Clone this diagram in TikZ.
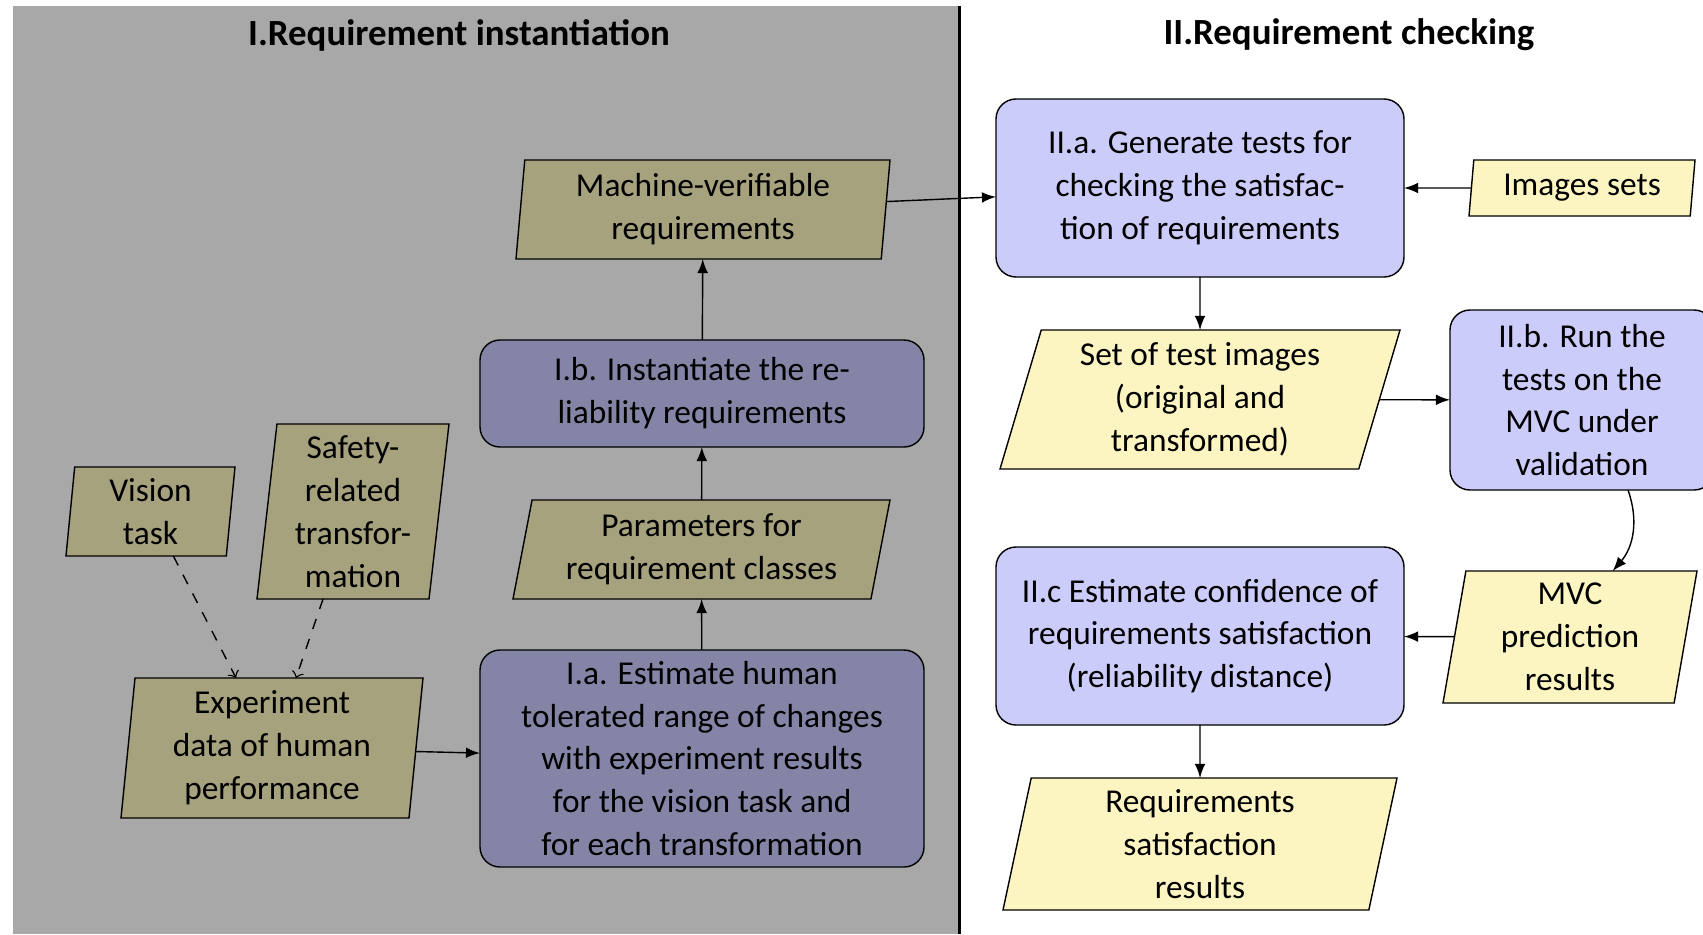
\documentclass[tikz,border=0pt]{standalone}
\usepackage{fontspec}
\setmainfont{Carlito}
\usetikzlibrary{shapes.geometric}

\definecolor{panelgray}{RGB}{168,168,168}
\definecolor{procdark}{RGB}{132,133,166}
\definecolor{datadark}{RGB}{166,162,125}
\definecolor{proclight}{RGB}{204,204,250}
\definecolor{datalight}{RGB}{253,245,193}

\begin{document}
\begin{tikzpicture}[
        font = \fontsize{9.5}{12.2}\selectfont,
     process/.style = {draw, rounded corners=2mm, align=center,
                       inner sep=0pt, outer sep=0pt},
        data/.style 2 args = {draw, trapezium, trapezium stretches body,
                       trapezium left angle=#1, trapezium right angle=#2,
                       align=center, inner sep=0pt, outer sep=0pt},
        flow/.style = {-latex},
        hint/.style = {->, dashed},
       title/.style = {font=\fontsize{10.5}{12}\selectfont\bfseries}
                                ]
        \useasboundingbox (0,0) rectangle (17.03,9.34);
        % left panel
        \fill[panelgray] (0.135,0) rectangle (9.595,9.285);
        \draw[semithick] (9.595,0) -- (9.595,9.285);
        \node[title] (t1) at (4.59,8.99)  {I.Requirement instantiation};
        \node[title] (t2) at (13.49,8.99) {II.Requirement checking};

        % I. instantiation
        \node[data={82.5}{97.5}, fill=datadark, minimum width=1.69cm, minimum height=0.89cm]
            (vision) at (1.505,4.225) {Vision\\task};
        \node[data={82.5}{97.5}, fill=datadark, minimum width=1.92cm, minimum height=1.75cm]
            (safety) at (3.53,4.225) {Safety-\\related\\transfor-\\mation};
        \node[data={83}{97}, fill=datadark, minimum width=3.02cm, minimum height=1.40cm]
            (exper) at (2.72,1.86) {Experiment\\data of human\\performance};
        \node[process, fill=procdark, minimum width=4.44cm, minimum height=2.17cm]
            (ia) at (7.02,1.755) {I.a. Estimate human\\tolerated range of changes\\with experiment results\\for the vision task and\\for each transformation};
        \node[data={75}{105}, fill=datadark, minimum width=3.77cm, minimum height=0.99cm]
            (params) at (7.015,3.845) {Parameters for\\requirement classes};
        \node[process, fill=procdark, minimum width=4.44cm, minimum height=1.07cm]
            (ib) at (7.02,5.405) {I.b. Instantiate the re-\\liability requirements};
        \node[data={83}{97}, fill=datadark, minimum width=3.74cm, minimum height=0.99cm]
            (machine) at (7.03,7.245) {Machine-verifiable\\requirements};

        % II. checking
        \node[process, fill=proclight, minimum width=4.08cm, minimum height=1.78cm]
            (iia) at (12.0,7.46) {II.a. Generate tests for\\checking the satisfac-\\tion of requirements};
        \node[data={80}{100}, fill=datalight, minimum width=2.26cm, minimum height=0.56cm]
            (images) at (15.82,7.46) {Images sets};
        \node[data={70}{110}, fill=datalight, minimum width=4.00cm, minimum height=1.39cm]
            (testset) at (12.0,5.345) {Set of test images\\(original and\\transformed)};
        \node[process, fill=proclight, minimum width=2.64cm, minimum height=1.80cm]
            (iib) at (15.82,5.34) {II.b. Run the\\tests on the\\MVC under\\validation};
        \node[data={78}{102}, fill=datalight, minimum width=2.54cm, minimum height=1.32cm]
            (mvc) at (15.70,2.97) {MVC\\prediction\\results};
        \node[process, fill=proclight, minimum width=4.08cm, minimum height=1.78cm]
            (iic) at (12.0,2.98) {II.c Estimate confidence of\\requirements satisfaction\\(reliability distance)};
        \node[data={75.5}{104.5}, fill=datalight, minimum width=3.94cm, minimum height=1.32cm]
            (results) at (12.0,0.90) {Requirements\\satisfaction\\results};

        % connectors
        \draw[hint] (vision) -- (exper);
        \draw[hint] (safety) -- (exper);
        \draw[flow] (exper) -- (ia);
        \draw[flow] (ia) -- (params);
        \draw[flow] (params) -- (ib);
        \draw[flow] (ib) -- (machine);
        \draw[flow] (machine) -- (iia);
        \draw[flow] (images) -- (iia);
        \draw[flow] (iia) -- (testset);
        \draw[flow] (testset) -- (iib);
        \draw[flow] (iib) to[bend left=30] (mvc);
        \draw[flow] (mvc) -- (iic);
        \draw[flow] (iic) -- (results);
    \end{tikzpicture}
\end{document}
